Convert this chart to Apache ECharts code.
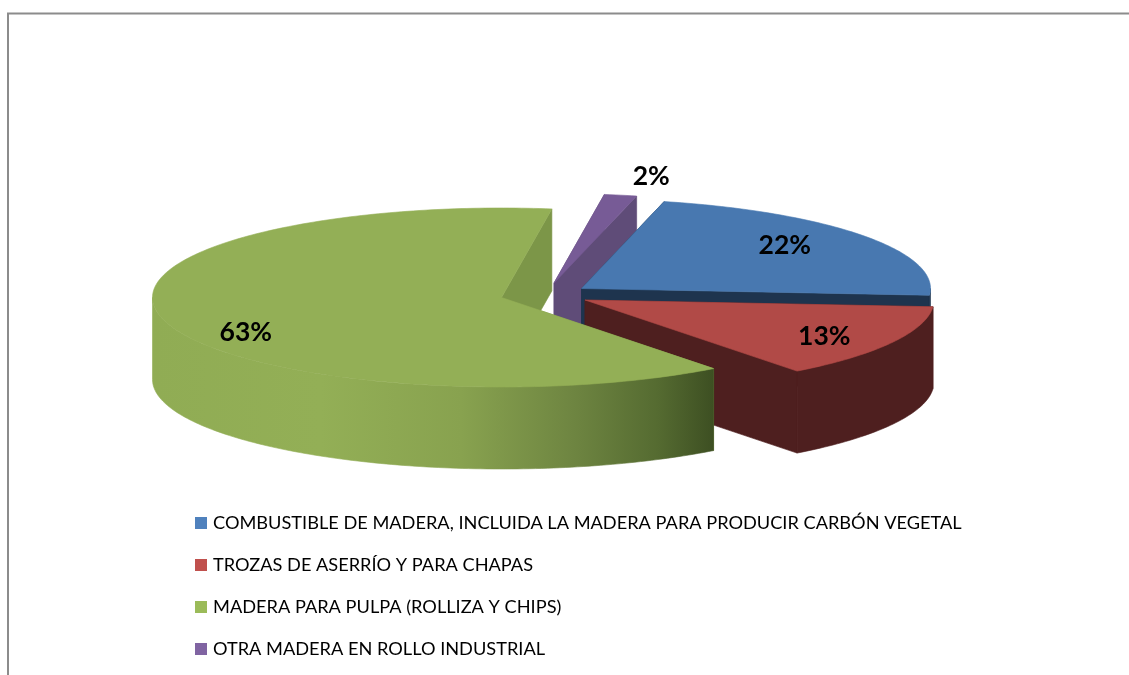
<!DOCTYPE html>
<html><head><meta charset="utf-8">
<style>html,body{margin:0;padding:0;background:#fff}#c{width:1129px;height:675px}</style>
<script src="https://cdn.jsdelivr.net/npm/echarts@6/dist/echarts.min.js"></script>
</head><body><div id="c"></div>
<script>
const categories = [
  'COMBUSTIBLE DE MADERA, INCLUIDA LA MADERA PARA PRODUCIR CARBÓN VEGETAL',
  'TROZAS DE ASERRÍO Y PARA CHAPAS',
  'MADERA PARA PULPA (ROLLIZA Y CHIPS)',
  'OTRA MADERA EN ROLLO INDUSTRIAL'
];
const shares = [22.4, 13.4, 62.7, 1.5];
const legendColors = ['#4f81bd', '#c0504d', '#9bbb59', '#8064a2'];

// Look of the tilted pie (layout only)
const START_DEG = 13.7, RX = 349, RY = 89.5, DEPTH = 82;
const looks = [
  {cx:581.5, cy:288.5, top:'#4878b0', side:'#1e344e', cut:'#1e344e', lf:.72,  ldy:-5, z:2},
  {cx:585,   cy:300,   top:'#b14a47', side:'#4e1f1f', cut:'#4e1f1f', lf:.78,  ldy:3,  z:3},
  {cx:501.5, cy:297.5, top:'#93af56', cut:'#7c9648', lf:.757, ldy:18, z:4,
   side:{type:'linear', global:true, x:152, y:0, x2:714, y2:0, colorStops:[
     {offset:0,color:'#90ac54'},{offset:.3,color:'#93af56'},{offset:.55,color:'#88a24f'},
     {offset:.75,color:'#6e8541'},{offset:.9,color:'#556b31'},{offset:1,color:'#3d4f22'}]}},
  {cx:554, cy:283,   top:'#775b96', side:'#5f4c78', cut:'#5f4c78', lf:1.46, ldy:22, z:1}
];

const total = shares.reduce((a,b)=>a+b,0);
const starts = shares.map((_,i)=>START_DEG + shares.slice(0,i).reduce((a,b)=>a+b,0)/total*360);
const rad = d => d*Math.PI/180;

function makeRender(i){
  const L = looks[i];
  return function(params, api){
    const sweep = api.value(0)/total*360, a0 = starts[i], a1 = a0+sweep;
    const pt = (d, dz) => [L.cx+RX*Math.sin(rad(d)), L.cy-RY*Math.cos(rad(d))+(dz||0)];
    const arc = (from, to, dz) => { const out=[]; const n=Math.max(2,Math.ceil(Math.abs(to-from)));
      for(let k=0;k<=n;k++) out.push(pt(from+(to-from)*k/n,dz)); return out; };
    const c0=[L.cx,L.cy], c1=[L.cx,L.cy+DEPTH];
    const kids=[];
    const poly=(points,fill)=>kids.push({type:'polygon',shape:{points},
      style:{fill,stroke:fill,lineWidth:.6}});
    // cut faces
    poly([c0,pt(a0),pt(a0,DEPTH),c1],L.cut);
    poly([c0,pt(a1),pt(a1,DEPTH),c1],L.cut);
    // outer wall: only the part turned to the viewer
    const f0=Math.max(a0,90), f1=Math.min(a1,270);
    if(f1>f0) poly(arc(f0,f1).concat(arc(f1,f0,DEPTH)),L.side);
    // top
    poly([c0].concat(arc(a0,a1)),L.top);
    // label
    const mid=(a0+a1)/2, lp=[L.cx+L.lf*RX*Math.sin(rad(mid)), L.cy-L.lf*RY*Math.cos(rad(mid))+L.ldy];
    kids.push({type:'text',z2:10,style:{x:lp[0],y:lp[1],text:Math.round(api.value(0))+'%',
      fill:'#000',font:'bold 26.5px Lato',align:'center',verticalAlign:'middle'}});
    return {type:'group',children:kids};
  };
}

const chart = echarts.init(document.getElementById('c'), null, {renderer:'canvas'});
chart.setOption({
  animation:false,
  backgroundColor:'#fff',
  graphic:[{type:'polyline',silent:true,z:0,shape:{points:[[8,675],[8,13.5],[1129,13.5]]},
    style:{fill:'none',stroke:'#8c8c8c',lineWidth:2}}],
  legend:{orient:'vertical',left:190,top:509,icon:'rect',itemWidth:12,itemHeight:12,itemGap:24,
    selectedMode:false,textStyle:{fontFamily:'Lato',fontSize:18.2,color:'#000',padding:[0,0,0,1]},
    data:categories},
  tooltip:{show:false},
  series:categories.map((name,i)=>({
    type:'custom',name,coordinateSystem:'none',silent:true,z:looks[i].z,
    itemStyle:{color:legendColors[i]},
    data:[[shares[i]]],renderItem:makeRender(i)
  }))
});
</script></body></html>
